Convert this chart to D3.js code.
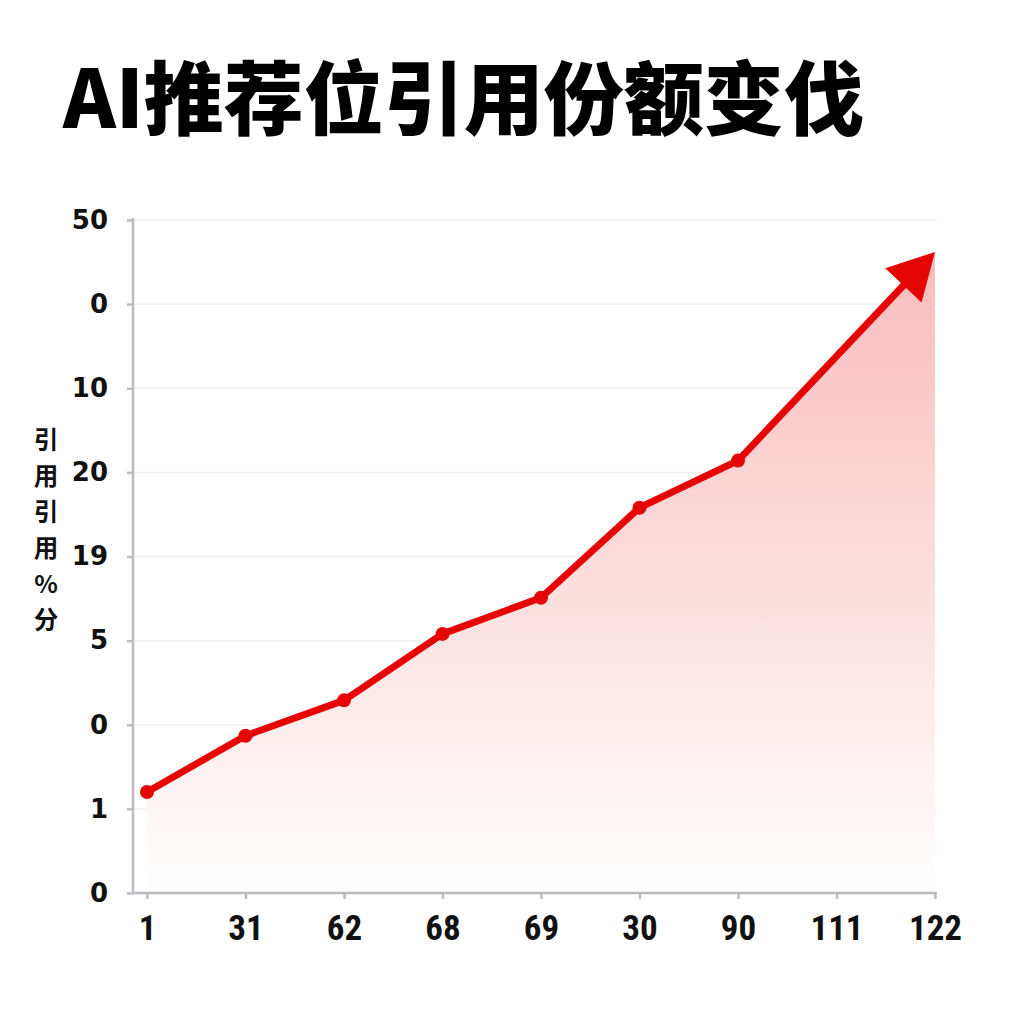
<!DOCTYPE html>
<html>
<head>
<meta charset="utf-8">
<script src="https://cdn.jsdelivr.net/npm/d3@7"></script>
<style>
  html, body { margin: 0; padding: 0; background: #fff; }
  svg { display: block; }
</style>
</head>
<body>
<div class="container"></div>
<script>
// chart values
const xLabels = ['1', '31', '62', '68', '69', '30', '90', '111', '122'];
const shareValues = [12.0, 18.7, 22.9, 30.8, 35.1, 45.8, 51.4, 64.4, 76.2];
const yTickValues = [0, 10, 20, 30, 40, 50, 60, 70, 80];
const yTickLabels = ['0', '1', '0', '5', '19', '20', '10', '0', '50'];
const yTitleChars = ['引', '用', '引', '用', '%', '分'];
const dotCount = 7; // the last stretch is drawn as one arrow

const globals = {
  lineColor: '#e60505',
  axisColor: '#b9bdc2',
  gridColor: '#f1f1f1',
  title: 'AI推荐位引用份额变伐'
};

const svg = d3.select('.container')
  .append('svg')
  .attr('width', 1024)
  .attr('height', 1024);

// title
svg.append('text')
  .attr('x', 63)
  .attr('y', 128)
  .attr('font-family', '"Noto Sans CJK SC", sans-serif')
  .attr('font-weight', 900)
  .attr('font-size', 80)
  .attr('fill', '#000')
  .text(globals.title);

// scales
const xScale = d3.scalePoint()
  .domain(d3.range(xLabels.length))
  .range([147, 935]);

const yScale = d3.scaleLinear()
  .domain([0, 80])
  .range([893, 220]);

const plotLeft = 133;
const plotRight = 937;

// faint grid lines
svg.append('g')
  .selectAll('line')
  .data(yTickValues.slice(1))
  .enter()
  .append('line')
  .attr('x1', plotLeft)
  .attr('x2', plotRight)
  .attr('y1', d => yScale(d))
  .attr('y2', d => yScale(d))
  .attr('stroke', globals.gridColor)
  .attr('stroke-width', 1.5);

// gradient for the area
const defs = svg.append('defs');
const grad = defs.append('linearGradient')
  .attr('id', 'areaFill')
  .attr('gradientUnits', 'userSpaceOnUse')
  .attr('x1', 0).attr('x2', 0)
  .attr('y1', yScale(76)).attr('y2', yScale(0));
grad.append('stop').attr('offset', '0%').attr('stop-color', '#f9bdbd');
grad.append('stop').attr('offset', '50%').attr('stop-color', '#fcdddd');
grad.append('stop').attr('offset', '100%').attr('stop-color', '#ffffff');

const area = d3.area()
  .x((d, i) => xScale(i))
  .y0(yScale(0))
  .y1(d => yScale(d));

svg.append('path')
  .datum(shareValues)
  .attr('d', area)
  .attr('fill', 'url(#areaFill)');

// line, pulled back at the end so the arrow head sits on the last value
const pts = shareValues.map((d, i) => [xScale(i), yScale(d)]);
const tip = pts[pts.length - 1];
const prev = pts[dotCount - 1];
const len = Math.hypot(tip[0] - prev[0], tip[1] - prev[1]);
const ux = (tip[0] - prev[0]) / len;
const uy = (tip[1] - prev[1]) / len;
const headLen = 46;
const headHalf = 25;
const base = [tip[0] - ux * headLen, tip[1] - uy * headLen];
const linePts = pts.slice(0, dotCount).concat([[base[0] + ux * 4, base[1] + uy * 4]]);

svg.append('path')
  .datum(linePts)
  .attr('d', d3.line())
  .attr('fill', 'none')
  .attr('stroke', globals.lineColor)
  .attr('stroke-width', 7)
  .attr('stroke-linejoin', 'round')
  .attr('stroke-linecap', 'round');

svg.append('path')
  .attr('d', d3.line()([
    tip,
    [base[0] - uy * headHalf, base[1] + ux * headHalf],
    [base[0] + uy * headHalf, base[1] - ux * headHalf]
  ]) + 'Z')
  .attr('fill', globals.lineColor);

svg.append('g')
  .selectAll('circle')
  .data(shareValues.slice(0, dotCount))
  .enter()
  .append('circle')
  .attr('cx', (d, i) => xScale(i))
  .attr('cy', d => yScale(d))
  .attr('r', 7)
  .attr('fill', globals.lineColor);

// y axis
const yAxis = svg.append('g')
  .attr('transform', `translate(${plotLeft},0)`)
  .call(d3.axisLeft(yScale)
    .tickValues(yTickValues)
    .tickFormat((d, i) => yTickLabels[i])
    .tickSize(6)
    .tickSizeOuter(0)
    .tickPadding(19));

yAxis.select('.domain')
  .attr('d', `M0,${yScale(80) - 2}V${yScale(0)}`)
  .attr('stroke', globals.axisColor)
  .attr('stroke-width', 2.5);
yAxis.selectAll('.tick line')
  .attr('stroke', globals.axisColor)
  .attr('stroke-width', 2.5);
yAxis.selectAll('.tick text')
  .attr('font-family', '"DejaVu Sans", sans-serif')
  .attr('font-weight', 'bold')
  .attr('font-size', 26)
  .attr('fill', '#111');

// x axis
const xAxis = svg.append('g')
  .attr('transform', `translate(0,${yScale(0)})`)
  .call(d3.axisBottom(xScale)
    .tickFormat(i => xLabels[i])
    .tickSize(6)
    .tickSizeOuter(0)
    .tickPadding(16));

xAxis.select('.domain')
  .attr('d', `M${plotLeft},0H${plotRight}`)
  .attr('stroke', globals.axisColor)
  .attr('stroke-width', 2.5);
xAxis.selectAll('.tick line')
  .attr('stroke', globals.axisColor)
  .attr('stroke-width', 2.5);
xAxis.selectAll('.tick text')
  .attr('font-family', '"Liberation Sans Narrow", "Roboto Condensed", "Roboto", sans-serif')
  .attr('font-weight', 'bold')
  .attr('font-size', 35)
  .attr('fill', '#111');

// stacked y axis title
svg.append('g')
  .selectAll('text')
  .data(yTitleChars)
  .enter()
  .append('text')
  .attr('x', 46)
  .attr('y', (d, i) => 449 + i * 36)
  .attr('text-anchor', 'middle')
  .attr('font-family', '"Noto Sans CJK SC", sans-serif')
  .attr('font-weight', 'bold')
  .attr('font-size', 24.5)
  .attr('fill', '#111')
  .text(d => d);
</script>
</body>
</html>
